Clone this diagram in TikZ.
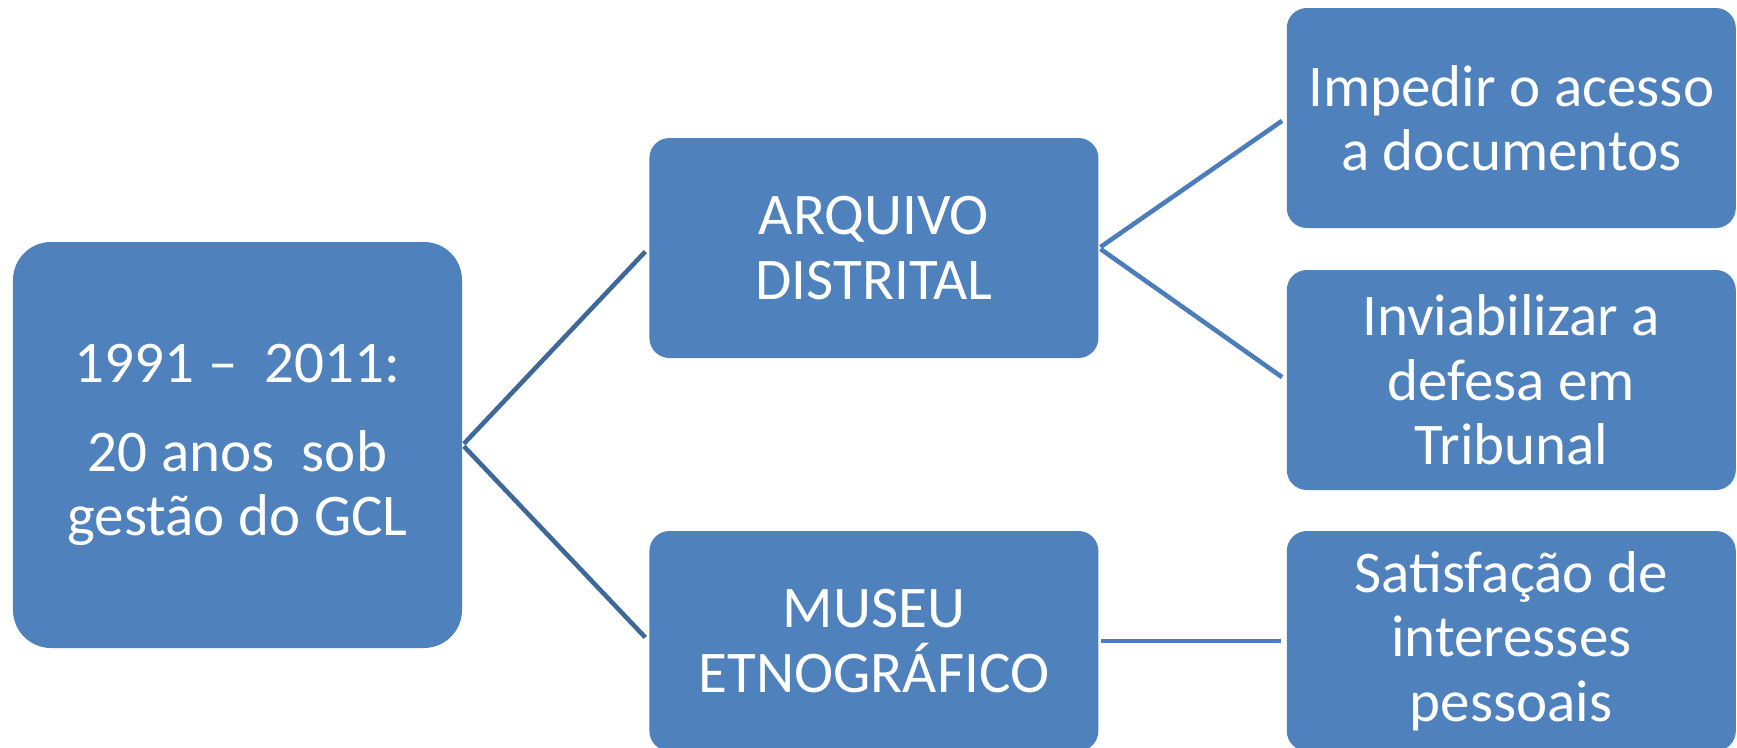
\documentclass[tikz,border=0pt]{standalone}
\usepackage{fontspec}
\setmainfont{Carlito}
\usetikzlibrary{
  positioning,
  calc
}
\definecolor{boxblue}{RGB}{79,129,189}
\definecolor{linkdark}{RGB}{62,104,154}
\definecolor{linklight}{RGB}{74,125,186}

\begin{document}
\begin{tikzpicture}[node distance = 1.87cm,
    box/.style = {rectangle, rounded corners = 0.2cm, fill = boxblue, text = white,
                  minimum width = 4.49cm, minimum height = 2.2cm, inner sep = 0pt,
                  text width = 4.3cm, align = center,
                  font = \fontsize{16.8}{18.3}\selectfont,
                  execute at begin node = {\spaceskip=0.23em\relax}},
    rootbox/.style = {box, rounded corners = 0.38cm, minimum height = 4.06cm},
    link/.style = {line width = 1.3pt, shorten <= 0.5pt, shorten >= 1.4pt}]
    \useasboundingbox (0,0) rectangle (17.37,-7.47);

    \node[rootbox] (root) at (2.375,-4.45) {1991 --\ \ 2011:\\[7pt] 20 anos\ \ sob\\ gestão do GCL};
    \node[box, right = 1.86cm of root, yshift = 1.97cm] (arquivo) {ARQUIVO\\ DISTRITAL};
    \node[box, right = 1.86cm of root, yshift = -1.96cm] (museu) {MUSEU\\ ETNOGRÁFICO};

    \node[box, right = of arquivo, yshift = 1.30cm] (impedir) {Impedir o acesso\\ a documentos};
    \node[box, right = of arquivo, yshift = -1.32cm] (inviab) {Inviabilizar a\\ defesa em\\ Tribunal};
    \node[box, right = of museu] (satisf) {Satisfação de\\ interesses\\ pessoais};

    \draw[link, linkdark] (root.east) -- (arquivo.west);
    \draw[link, linkdark] (root.east) -- (museu.west);
    \draw[link, linklight] (arquivo.east) -- (impedir.west);
    \draw[link, linklight] (arquivo.east) -- (inviab.west);
    \draw[link, linklight] (museu.east) -- (satisf.west);
  \end{tikzpicture}
\end{document}
